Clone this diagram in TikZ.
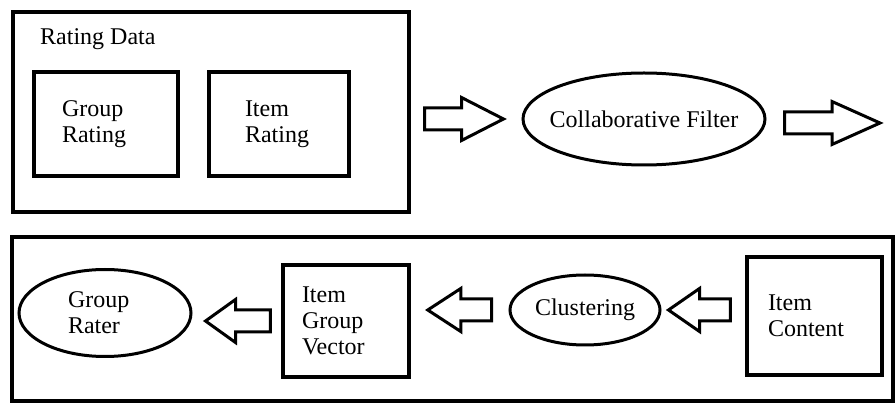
\documentclass[tikz,border=0pt]{standalone}
\usepackage{fontspec}
\setmainfont{Liberation Serif}
\usetikzlibrary{shapes,calc}

\tikzstyle{frame} = [rectangle, draw=black, line width=3.2pt, inner sep=0pt]
\tikzstyle{box} = [rectangle, draw=black, line width=3.5pt, align=left, inner ysep=0pt]
\tikzstyle{oval} = [ellipse, draw=black, line width=3pt, inner sep=0pt, align=left]
\tikzset{blockarrow/.style={draw=black, line width=3pt, line join=miter,
  to path={let \p1=(\tikztostart), \p2=(\tikztotarget),
    \p3=({\x2-sign(\x2-\x1)*#1},\y1) in
    (\x1,\y1+11pt) -- (\x3,\y1+11pt) -- (\x3,\y1+21.5pt) -- (\x2,\y1)
    -- (\x3,\y1-21.5pt) -- (\x3,\y1-11pt) -- (\x1,\y1-11pt) -- cycle}}}

\begin{document}
\begin{tikzpicture}[x=1pt, y=-1pt, font=\fontsize{24}{26}\selectfont]
\useasboundingbox (0,0) rectangle (895,403);

% rating data and collaborative filter
\node (rating) [frame, minimum width=396pt, minimum height=200pt] at (211,112) {};
\node (ratingtxt) [anchor=base west, inner sep=0pt] at (40,45) {Rating Data};
\node (grprate) [box, text width=88pt, inner xsep=28pt, minimum height=104pt] at (106,124) {Group\\Rating};
\node (itemrate) [box, text width=68pt, inner xsep=36pt, minimum height=104pt] at (279,124) {Item\\Rating};
\node (cf) [oval, inner xsep=-15pt, minimum width=242pt, minimum height=92pt] at (644,119) {Collaborative Filter};
\coordinate (cfout) at (880,123);

% item content down to group rater
\node (lower) [frame, minimum width=881pt, minimum height=164pt] at (452.5,319) {};
\node (rater) [oval, text width=74pt, minimum width=172pt, minimum height=87pt] at (105,313) {Group\\Rater};
\node (igv) [box, text width=88pt, inner xsep=19pt, minimum height=112pt] at (346,321) {Item\\Group\\Vector};
\node (clus) [oval, minimum width=150pt, minimum height=70pt] at (585,310) {Clustering};
\node (content) [box, text width=93pt, inner xsep=21pt, minimum height=118pt] at (814.5,316) {Item\\Content};

\draw [blockarrow=42pt] ([xshift=14pt]rating.east |- cf.west) to ([xshift=-18pt]cf.west);
\draw [blockarrow=48pt] ([xshift=18pt]cf.east |- cfout) to (cfout);
\draw [blockarrow=31pt] ([xshift=-15pt]content.west |- clus.east) to ([xshift=7pt]clus.east);
\draw [blockarrow=33pt] ([xshift=-17pt]clus.west) to ([xshift=17pt]igv.east |- clus.west);
\draw [blockarrow=30pt] ([xshift=-11pt]igv.west) to ([xshift=13pt]rater.east |- igv.west);
\end{tikzpicture}
\end{document}
